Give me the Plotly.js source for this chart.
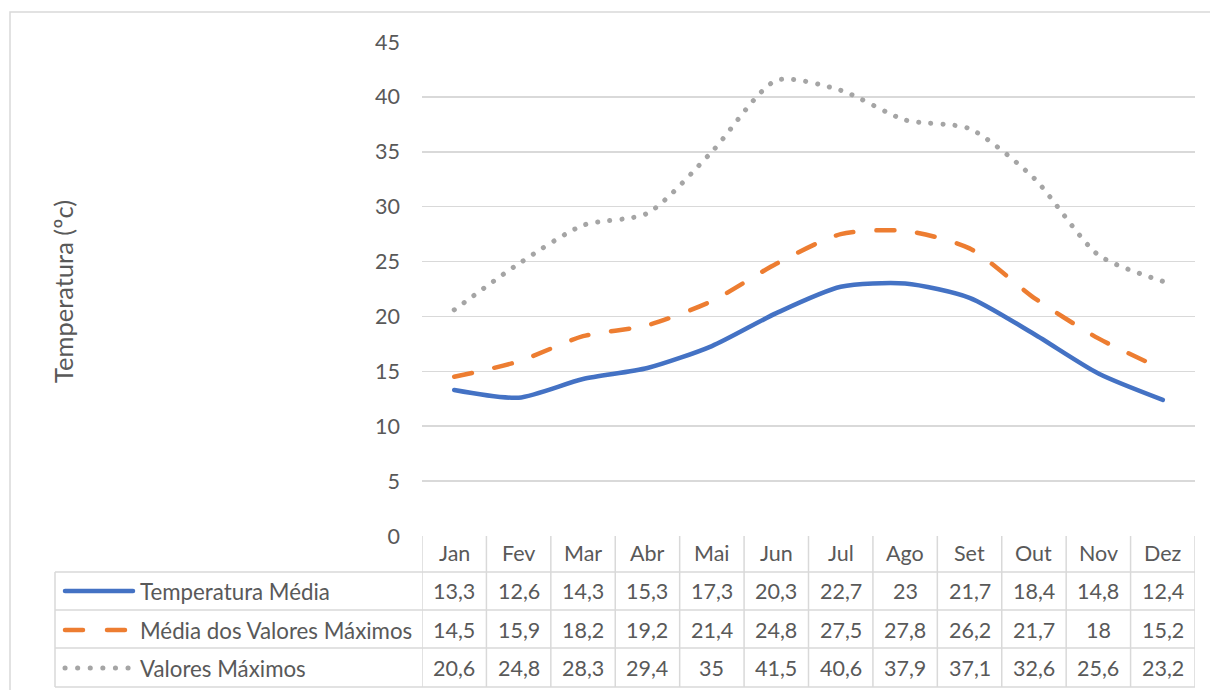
<!DOCTYPE html>
<html>
<head>
<meta charset="utf-8">
<script src="https://cdn.plot.ly/plotly-3.0.1.min.js"></script>
<style>html,body{margin:0;padding:0;background:#fff;}#chart{width:1210px;height:690px;}</style>
</head>
<body>
<div id="chart"></div>
<script>
// ---- data ----
var months = ["Jan","Fev","Mar","Abr","Mai","Jun","Jul","Ago","Set","Out","Nov","Dez"];
var seriesNames = ["Temperatura Média","Média dos Valores Máximos","Valores Máximos"];
var tempMedia = [13.3,12.6,14.3,15.3,17.3,20.3,22.7,23,21.7,18.4,14.8,12.4];
var mediaMaximos = [14.5,15.9,18.2,19.2,21.4,24.8,27.5,27.8,26.2,21.7,18,15.2];
var valoresMaximos = [20.6,24.8,28.3,29.4,35,41.5,40.6,37.9,37.1,32.6,25.6,23.2];
var yTitle = "Temperatura (ºc)";

// ---- layout helpers (pixel -> paper) ----
var W = 1210, H = 690;
function px(x){ return x / W; }
function py(y){ return (H - y) / H; }
var FONT = "Lato, 'Open Sans', sans-serif";
var TXT = "#595959";
var GRID = "#d9d9d9";
var FS = 21.5;

var seriesData = [tempMedia, mediaMaximos, valoresMaximos];
var colors = ["#4472C4","#ED7D31","#A5A5A5"];
var dashes = ["solid","18px,23px","0.1px,12px"];
var widths = [4.5, 4.5, 5];

var xIdx = months.map(function(_, i){ return i; });
var traces = seriesData.map(function(vals, k){
  return {
    type: "scatter", mode: "lines", x: xIdx, y: vals, name: seriesNames[k],
    line: {color: colors[k], width: widths[k], dash: dashes[k], shape: "spline", smoothing: 0.7},
    hoverinfo: "skip", showlegend: false
  };
});

// table geometry (pixel rows)
var rowLines = [572, 610, 648, 687];
var rowCenters = [591, 630, 668];
var headerTop = 536, headerCenter = 553;
var tableLeft = 55, tableRight = 1195, plotLeft = 422;
var fmt = function(v){ return String(v).replace(".", ","); };

var annotations = [];
var shapes = [];

// chart border
shapes.push({type:"rect", xref:"paper", yref:"paper", x0:px(10), x1:1.02, y0:-0.02, y1:py(12),
  line:{color:GRID, width:1.5}, fillcolor:"rgba(0,0,0,0)", layer:"below"});

// month header
months.forEach(function(m, i){
  annotations.push({xref:"x", yref:"paper", x:i, y:py(headerCenter), text:m, showarrow:false,
    font:{family:FONT, size:FS, color:TXT}, xanchor:"center", yanchor:"middle"});
});
// values
seriesData.forEach(function(vals, k){
  vals.forEach(function(v, i){
    annotations.push({xref:"x", yref:"paper", x:i, y:py(rowCenters[k]), text:fmt(v), showarrow:false,
      font:{family:FONT, size:FS, color:TXT}, xanchor:"center", yanchor:"middle"});
  });
  annotations.push({xref:"paper", yref:"paper", x:px(138), y:py(rowCenters[k]), text:seriesNames[k], showarrow:false,
    font:{family:FONT, size:22.3, color:TXT}, xanchor:"left", yanchor:"middle"});
  shapes.push({type:"line", xref:"paper", yref:"paper", x0:px(65), x1:px(k===0 ? 133 : 130), y0:py(rowCenters[k]), y1:py(rowCenters[k]),
    line:{color:colors[k], width:widths[k], dash: k===1 ? "18px,24px" : (k===2 ? "0.1px,12.5px" : "solid")}});
});
// vertical table lines
for (var i = 0; i <= months.length; i++){
  shapes.push({type:"line", xref:"x", yref:"paper", x0:i-0.5, x1:i-0.5, y0:py(rowLines[3]), y1:py(headerTop),
    line:{color:GRID, width:1.5}});
}
shapes.push({type:"line", xref:"paper", yref:"paper", x0:px(tableLeft), x1:px(tableLeft), y0:py(rowLines[3]), y1:py(rowLines[0]),
  line:{color:GRID, width:1.5}});
// horizontal table lines
rowLines.forEach(function(r){
  shapes.push({type:"line", xref:"paper", yref:"paper", x0:px(tableLeft), x1:px(tableRight), y0:py(r), y1:py(r),
    line:{color:GRID, width:1.5}});
});

// y title
annotations.push({xref:"paper", yref:"paper", x:px(63), y:py(292), text:yTitle, textangle:-90, showarrow:false,
  font:{family:FONT, size:25.5, color:TXT}, xanchor:"center", yanchor:"middle"});

var layout = {
  width: W, height: H, margin:{l:0,r:0,t:0,b:0},
  paper_bgcolor:"#fff", plot_bgcolor:"#fff", separators:",.",
  xaxis:{domain:[px(plotLeft), px(tableRight)], range:[-0.5, 11.5], showticklabels:false, showgrid:false,
    zeroline:false, showline:false, ticks:"", fixedrange:true},
  yaxis:{domain:[py(headerTop), py(42)], range:[0,45], dtick:5, tick0:0, showgrid:true, gridcolor:GRID, gridwidth:1.5,
    zeroline:false, showline:false, ticks:"", ticklabelstandoff:21,
    tickfont:{family:FONT, size:FS, color:TXT}, fixedrange:true},
  shapes: shapes, annotations: annotations, showlegend:false
};

Plotly.newPlot("chart", traces, layout, {displayModeBar:false, staticPlot:true}).then(function(gd){
  // Excel-style rounded line caps for dashed / dotted strokes
  gd.querySelectorAll(".scatterlayer path.js-line").forEach(function(p){
    p.style.strokeLinecap = "round"; p.style.strokeLinejoin = "round";
  });
  gd.querySelectorAll(".shapelayer path").forEach(function(p){
    var s = p.style.stroke || "";
    if (s.indexOf("237") >= 0 || s.indexOf("165") >= 0 || s.indexOf("68, 114") >= 0) p.style.strokeLinecap = "round";
  });
});
</script>
</body>
</html>
